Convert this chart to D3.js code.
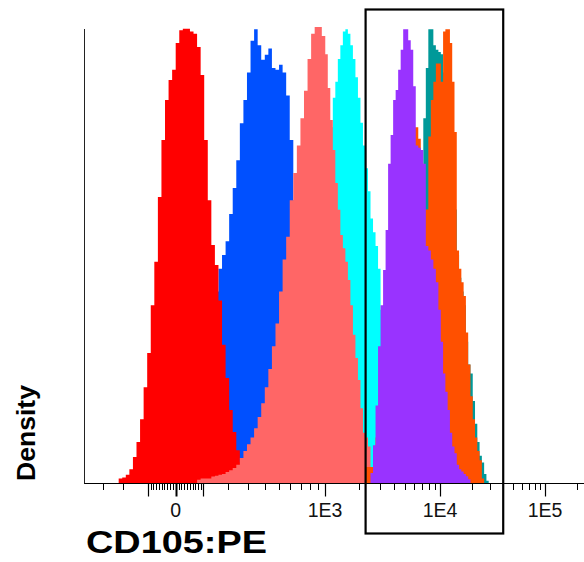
<!DOCTYPE html>
<html>
<head>
<meta charset="utf-8">
<script src="https://cdn.jsdelivr.net/npm/d3@7"></script>
<style>
  html, body { margin: 0; padding: 0; background: #fff; }
  svg { display: block; }
  text { font-family: "Liberation Sans", Arial, Helvetica, sans-serif; }
</style>
</head>
<body>
<svg id="chart" width="584" height="562"></svg>
<script>
// Histograms are binned uniformly in arcsinh units: asinh(value / cofactor)
const cofactor = 250;
const binOrigin = -1.3;
const binWidth = 0.05;

// Mode-normalized density per bin for each overlaid sample (first bin index + values)
const tealStart = 95;
const tealDensity = [0.05, 0.08, 0.1, 0.13, 0.16, 0.2, 0.25, 0.3, 0.36, 0.43, 0.5, 0.65, 0.8, 0.91, 0.995, 0.995,
  0.96, 0.95, 0.945, 0.94, 0.9, 0.85, 0.8, 0.75, 0.68, 0.6, 0.5, 0.45, 0.42, 0.39, 0.31, 0.26, 0.24, 0.18, 0.13,
  0.09, 0.06, 0.045, 0.02, 0.005];

const orangeStart = 88;
const orangeDensity = [0.01, 0.015, 0.02, 0.03, 0.05, 0.06, 0.08, 0.1, 0.13, 0.16, 0.2, 0.24, 0.28, 0.32, 0.36,
  0.4, 0.44, 0.48, 0.52, 0.56, 0.6, 0.76, 0.84, 0.88, 0.92, 0.92, 0.88, 0.99, 0.995, 0.995, 0.965, 0.88, 0.77,
  0.51, 0.47, 0.44, 0.41, 0.33, 0.26, 0.19, 0.14, 0.1, 0.07, 0.05, 0.01];

const blueStart = 28;
const blueDensity = [0.015, 0.03, 0.05, 0.08, 0.12, 0.17, 0.22, 0.28, 0.35, 0.42, 0.47, 0.5, 0.53, 0.59, 0.647,
  0.708, 0.789, 0.84, 0.9, 0.97, 0.995, 0.96, 0.928, 0.939, 0.953, 0.91, 0.906, 0.917, 0.9, 0.85, 0.752, 0.62,
  0.5, 0.38, 0.27, 0.17, 0.09, 0.04, 0.015];

const redStart = 10;
const redDensity = [0.01, 0.012, 0.018, 0.03, 0.057, 0.09, 0.14, 0.21, 0.285, 0.39, 0.485, 0.627, 0.752, 0.84,
  0.884, 0.906, 0.965, 0.993, 0.996, 0.996, 0.99, 0.985, 0.956, 0.895, 0.752, 0.62, 0.522, 0.478, 0.4, 0.303,
  0.23, 0.16, 0.112, 0.072, 0.046, 0.03, 0.02, 0.012, 0.006];

const cyanStart = 61;
const cyanDensity = [0.03, 0.06, 0.12, 0.2, 0.3, 0.4, 0.5, 0.6, 0.7, 0.78, 0.845, 0.88, 0.93, 0.96, 0.99, 0.995,
  0.985, 0.96, 0.93, 0.89, 0.845, 0.79, 0.74, 0.69, 0.64, 0.58, 0.55, 0.52, 0.47, 0.38, 0.3, 0.22, 0.15, 0.09,
  0.05, 0.02];

const salmonStart = 32;
const salmonDensity = [0.007, 0.01, 0.01, 0.01, 0.014, 0.016, 0.018, 0.02, 0.024, 0.028, 0.033, 0.04, 0.055,
  0.07, 0.085, 0.1, 0.12, 0.145, 0.175, 0.21, 0.25, 0.3, 0.35, 0.42, 0.49, 0.54, 0.62, 0.68, 0.74, 0.8, 0.86,
  0.93, 0.985, 1.0, 1.0, 0.98, 0.94, 0.866, 0.796, 0.73, 0.658, 0.599, 0.544, 0.515, 0.485, 0.445, 0.39, 0.325,
  0.274, 0.226, 0.164, 0.11, 0.1, 0.08, 0.035, 0.01];

const orangeRedStart = 84;
const orangeRedDensity = [0.035, 0.035, 0.035, 0.06, 0.1, 0.16, 0.22, 0.3, 0.38, 0.46, 0.54, 0.6, 0.65, 0.69,
  0.72, 0.74, 0.76, 0.77, 0.775, 0.78, 0.78, 0.755, 0.7, 0.6, 0.5, 0.42, 0.35, 0.28, 0.22, 0.16, 0.11, 0.07,
  0.04, 0.02];

const purpleStart = 86;
const purpleDensity = [0.022, 0.083, 0.17, 0.3, 0.39, 0.467, 0.555, 0.7, 0.763, 0.84, 0.862, 0.906, 0.95, 0.995,
  0.995, 0.971, 0.95, 0.87, 0.74, 0.735, 0.73, 0.7, 0.52, 0.51, 0.49, 0.47, 0.44, 0.38, 0.31, 0.24, 0.2, 0.16,
  0.11, 0.08, 0.065, 0.04, 0.03, 0.025, 0.02, 0.015, 0.008];

// Gate on CD105:PE (linear values)
const gateRange = [2270, 40000];

// Axis ticks
const labeledTicks = [0, 1e3, 1e4, 1e5];
const tickLabels = ["0", "1E3", "1E4", "1E5"];
const unlabeledMajorTicks = [-100, 100];

const xTitle = "CD105:PE";
const yTitle = "Density";

// ---- drawing order, back to front ----
const layers = [
  { start: tealStart, values: tealDensity, color: "#009999" },
  { start: orangeStart, values: orangeDensity, color: "#ff5000" },
  { start: blueStart, values: blueDensity, color: "#0050ff" },
  { start: redStart, values: redDensity, color: "#ff0000" },
  { start: cyanStart, values: cyanDensity, color: "#00ffff" },
  { start: salmonStart, values: salmonDensity, color: "#ff6666" },
  { start: orangeRedStart, values: orangeRedDensity, color: "#ff5000" },
  { start: purpleStart, values: purpleDensity, color: "#9933ff" }
];

const svg = d3.select("#chart");

// Biexponential-style display: arcsinh transform, calibrated per decade
const asinhT = v => Math.asinh(v / cofactor);
const decadeAnchors = [0, 1e3, 1e4, 1e5];
const xT = d3.scaleLinear().domain(decadeAnchors.map(asinhT)).range([175.7, 325, 440, 545]);
const x = v => xT(asinhT(v));
const xBin = k => xT(binOrigin + binWidth * k);

const y = d3.scaleLinear().domain([0, 1]).range([483, 27]);

const plotLeft = 84, plotRight = 584, plotTop = 29;

const area = d3.area()
  .curve(d3.curveStepAfter)
  .x(d => xBin(d.k))
  .y0(y(0))
  .y1(d => y(d.v));

svg.append("g").selectAll("path")
  .data(layers)
  .join("path")
  .attr("fill", d => d.color)
  .attr("d", d => {
    const pts = d.values.map((v, i) => ({ k: d.start + i, v }));
    pts.push({ k: d.start + d.values.length, v: 0 });
    return area(pts);
  });

// Axes frame
const axisY = y(0) + 0.5;
svg.append("line")
  .attr("x1", plotLeft).attr("x2", plotRight)
  .attr("y1", axisY).attr("y2", axisY)
  .attr("stroke", "#000").attr("stroke-width", 1);
svg.append("line")
  .attr("x1", plotLeft + 0.5).attr("x2", plotLeft + 0.5)
  .attr("y1", plotTop).attr("y2", axisY)
  .attr("stroke", "#222").attr("stroke-width", 1);

// Minor tick values
const minorTicks = [-300, -200];
for (let m = 10; m < 100; m += 10) { minorTicks.push(-m, m); }
[100, 1000, 10000].forEach(dec => {
  for (let m = 2; m <= 9; m++) minorTicks.push(m * dec);
});
minorTicks.push(2e5);

const ticks = svg.append("g");
ticks.selectAll("line.minor")
  .data(minorTicks)
  .join("line")
  .attr("class", "minor")
  .attr("x1", d => Math.round(x(d)) + 0.5).attr("x2", d => Math.round(x(d)) + 0.5)
  .attr("y1", axisY).attr("y2", axisY + 6.5)
  .attr("stroke", "#000").attr("stroke-width", 1);
ticks.selectAll("line.major")
  .data(labeledTicks.concat(unlabeledMajorTicks))
  .join("line")
  .attr("class", "major")
  .attr("x1", d => Math.round(x(d)) + 0.5).attr("x2", d => Math.round(x(d)) + 0.5)
  .attr("y1", axisY).attr("y2", axisY + 13)
  .attr("stroke", "#000").attr("stroke-width", d => d === 0 ? 2 : 1.2);

ticks.selectAll("text")
  .data(labeledTicks)
  .join("text")
  .attr("x", d => x(d))
  .attr("y", 517)
  .attr("text-anchor", "middle")
  .attr("font-size", "19.5px")
  .attr("fill", "#111")
  .text((d, i) => tickLabels[i]);

// Gate
svg.append("rect")
  .attr("x", x(gateRange[0]))
  .attr("y", 9.5)
  .attr("width", x(gateRange[1]) - x(gateRange[0]))
  .attr("height", 524)
  .attr("fill", "none")
  .attr("stroke", "#000")
  .attr("stroke-width", 2.2);

// Titles
svg.append("text")
  .attr("x", 86).attr("y", 553)
  .attr("font-size", "32px").attr("font-weight", "bold")
  .attr("textLength", 181).attr("lengthAdjust", "spacingAndGlyphs")
  .attr("fill", "#000")
  .text(xTitle);

svg.append("text")
  .attr("transform", "translate(35,433) rotate(-90)")
  .attr("text-anchor", "middle")
  .attr("font-size", "26px").attr("font-weight", "bold")
  .attr("textLength", 96).attr("lengthAdjust", "spacingAndGlyphs")
  .attr("fill", "#000")
  .text(yTitle);
</script>
</body>
</html>
